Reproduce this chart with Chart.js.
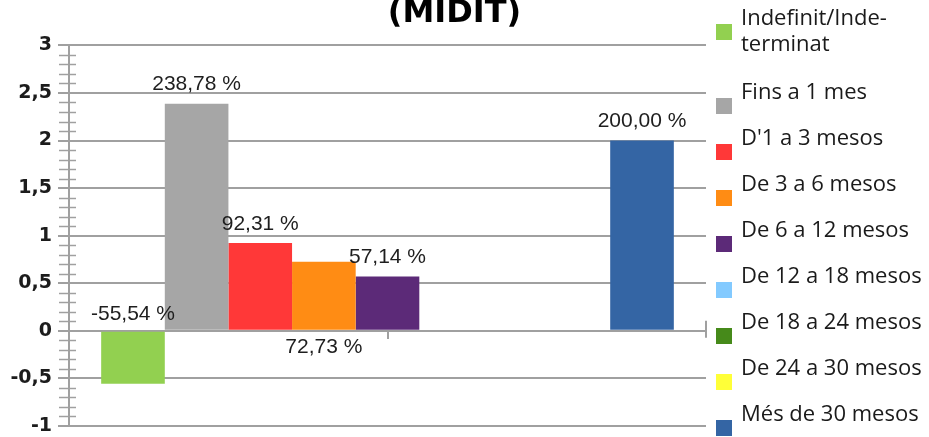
<!DOCTYPE html>
<html>
<head>
<meta charset="utf-8">
<script src="https://cdn.jsdelivr.net/npm/chart.js@4.4.0/dist/chart.umd.min.js"></script>
<style>
html,body{margin:0;padding:0;background:#fff;overflow:hidden}
#wrap{width:929px;height:437px;position:relative}
</style>
</head>
<body>
<div id="wrap"><canvas id="c" width="929" height="437"></canvas></div>
<script>
// ---- data ----
const categories = [''];
const seriesNames = ['Indefinit/Inde-terminat', 'Fins a 1 mes', "D'1 a 3 mesos", 'De 3 a 6 mesos', 'De 6 a 12 mesos', 'De 12 a 18 mesos', 'De 18 a 24 mesos', 'De 24 a 30 mesos', 'Més de 30 mesos'];
const legendLines = [['Indefinit/Inde-', 'terminat'], ['Fins a 1 mes'], ["D'1 a 3 mesos"], ['De 3 a 6 mesos'], ['De 6 a 12 mesos'], ['De 12 a 18 mesos'], ['De 18 a 24 mesos'], ['De 24 a 30 mesos'], ['Més de 30 mesos']];
const seriesValues = [-0.5554, 2.3878, 0.9231, 0.7273, 0.5714, null, null, null, 2.0];
const seriesColors = ['#92d050', '#a6a6a6', '#ff3838', '#ff8c14', '#5c2a78', '#83caff', '#468a1a', '#ffff38', '#3465a4'];
const labelPlacement = ['baseAbove', 'end', 'end', 'baseBelow', 'end', 'end', 'end', 'end', 'end'];
const yTickValues = [-1, -0.5, 0, 0.5, 1, 1.5, 2, 2.5, 3];
const yTickLabels = ['-1', '-0,5', '0', '0,5', '1', '1,5', '2', '2,5', '3'];
const titleText = '(MIDIT)';

const GRID = '#a0a0a0';

function fmtPct(v) {
  return (v * 100).toFixed(2).replace('.', ',') + ' %';
}

const decorPlugin = {
  id: 'decor',
  beforeDatasetsDraw(chart) {
    const ctx = chart.ctx;
    const y = chart.scales.y;
    const ca = chart.chartArea;
    ctx.save();
    ctx.strokeStyle = GRID;
    ctx.lineWidth = 1.5;
    // minor ticks every 0.1
    for (let k = -10; k <= 30; k++) {
      if (k % 5 === 0) continue;
      const py = Math.round(y.getPixelForValue(k / 10)) + 0.5;
      ctx.beginPath();
      ctx.moveTo(ca.left - 10, py);
      ctx.lineTo(ca.left + 7, py);
      ctx.stroke();
    }
    // right end tick on the zero line
    const y0 = y.getPixelForValue(0);
    ctx.lineWidth = 2;
    ctx.beginPath();
    ctx.moveTo(ca.right, y0 - 10);
    ctx.lineTo(ca.right, y0 + 7);
    ctx.stroke();
    ctx.restore();
  },
  afterDatasetsDraw(chart) {
    const ctx = chart.ctx;
    ctx.save();
    ctx.font = '21px "Liberation Sans", Arial, sans-serif';
    ctx.fillStyle = '#1e1e1e';
    ctx.textAlign = 'center';
    ctx.textBaseline = 'middle';
    chart.data.datasets.forEach((ds, i) => {
      const v = ds.data[0];
      if (v === null || v === undefined) return;
      const el = chart.getDatasetMeta(i).data[0];
      let ty;
      const p = labelPlacement[i];
      if (p === 'baseAbove') ty = el.base - 18;
      else if (p === 'baseBelow') ty = el.base + 17;
      else ty = el.y - 19;
      ctx.fillText(fmtPct(v), el.x, ty);
    });
    ctx.restore();
  },
  afterDraw(chart) {
    const ctx = chart.ctx;
    const ca = chart.chartArea;
    ctx.save();
    ctx.font = '22px "Open Sans", sans-serif';
    ctx.fillStyle = '#1a1a1a';
    ctx.textAlign = 'left';
    ctx.textBaseline = 'middle';
    const boxX = ca.right + 10;
    const textX = ca.right + 35;
    chart.data.datasets.forEach((ds, i) => {
      const lines = legendLines[i];
      const boxTop = i === 0 ? 24 : 98 + (i - 1) * 46;
      ctx.fillStyle = ds.backgroundColor;
      ctx.fillRect(boxX, boxTop, 16, 16);
      ctx.fillStyle = '#1a1a1a';
      if (lines.length > 1) {
        ctx.fillText(lines[0], textX, boxTop + 8 - 13);
        ctx.fillText(lines[1], textX, boxTop + 8 + 13);
      } else {
        ctx.fillText(lines[0], textX, boxTop + 8 - 13);
      }
    });
    ctx.restore();
  }
};

const datasets = seriesNames.map((name, i) => ({
  label: name,
  data: [seriesValues[i]],
  backgroundColor: seriesColors[i],
  borderWidth: 0,
  categoryPercentage: 0.899,
  barPercentage: 1.0
}));

new Chart(document.getElementById('c'), {
  type: 'bar',
  data: { labels: categories, datasets },
  plugins: [decorPlugin],
  options: {
    responsive: false,
    animation: false,
    layout: { padding: { left: 0, right: 20, top: 0, bottom: 11 } },
    plugins: {
      legend: { display: false },
      tooltip: { enabled: false },
      title: {
        display: true,
        text: titleText,
        color: '#000',
        font: { family: 'DejaVu Sans', weight: 'bold', size: 32 },
        padding: { top: -6, bottom: 13 }
      }
    },
    scales: {
      x: {
        position: { y: 0 },
        offset: true,
        grid: { display: true, drawOnChartArea: false, offset: false, tickLength: 7, color: GRID, lineWidth: 2 },
        border: { display: true, color: GRID, width: 2 },
        ticks: { display: false }
      },
      y: {
        position: 'left',
        min: -1,
        max: 3,
        afterBuildTicks(scale) { scale.ticks = yTickValues.map(v => ({ value: v })); },
        afterFit(scale) { scale.width = 69; scale.paddingTop = 0; scale.paddingBottom = 0; },
        grid: { color: GRID, lineWidth: 2, tickLength: 11 },
        border: { display: true, color: GRID, width: 2 },
        ticks: {
          padding: 6,
          color: '#1c1c1c',
          font: { family: 'DejaVu Sans', weight: 'bold', size: 19 },
          callback: (v) => { const i = yTickValues.indexOf(v); return i >= 0 ? yTickLabels[i] : ''; }
        }
      },
      y2: {
        position: 'right',
        display: true,
        grid: { display: false },
        border: { display: false },
        ticks: { display: false },
        afterFit(scale) { scale.width = 203; scale.paddingTop = 0; scale.paddingBottom = 0; }
      }
    }
  }
});
</script>
</body>
</html>
